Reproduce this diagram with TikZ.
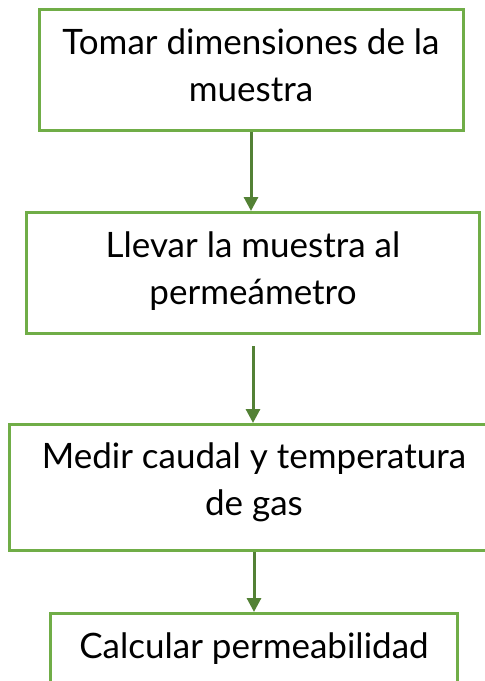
\documentclass[tikz,border=0pt]{standalone}
\usepackage{fontspec}
\setmainfont{Lato}
\usetikzlibrary{positioning,arrows.meta}
\definecolor{boxgreen}{HTML}{70AD47}
\definecolor{arrowgreen}{HTML}{538135}

\begin{document}
\begin{tikzpicture}[x=1pt, y=-1pt, >={Triangle[length=14pt,width=14pt]},
      font=\fontsize{35}{47}\selectfont,
      stepbox/.style={draw=boxgreen, line width=3pt, align=center, inner sep=0pt, minimum height=121pt, text depth=10pt},
      flow/.style={->, draw=arrowgreen, line width=3pt}]
      \useasboundingbox (0,0) rectangle (485,681);
      \clip (0,0) rectangle (485,681);
      \node[stepbox, minimum width=424pt] (dim) at (251,70) {Tomar dimensiones de la\\muestra};
      \node[stepbox, minimum width=453pt, below=79pt of dim, xshift=2pt] (perm) {Llevar la muestra al\\permeámetro};
      \node[stepbox, minimum width=490pt, below=88pt of perm, xshift=1pt, minimum height=126pt, text depth=16pt] (gas) {Medir caudal y temperatura\\de gas};
      \node[stepbox, minimum width=407pt, below=60pt of gas] (calc) {Calcular permeabilidad\\\mbox{}};
      \draw[flow] (dim.south) -- (dim.south |- perm.north);
      \draw[flow, shorten <=11pt] (perm.south) -- (perm.south |- gas.north);
      \draw[flow] (gas.south) -- (gas.south |- calc.north);
    \end{tikzpicture}
\end{document}
